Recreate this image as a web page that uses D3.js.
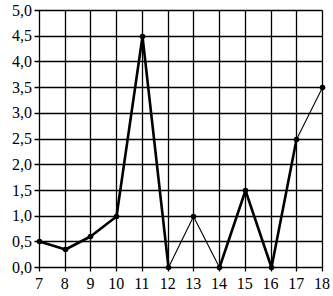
<!DOCTYPE html>
<html><head><meta charset="utf-8">
<script src="https://cdn.jsdelivr.net/npm/d3@7"></script>
<style>body{margin:0;background:#fff}svg{display:block}
text{font-family:"Liberation Serif","Times New Roman","DejaVu Serif",serif;font-size:16px}</style>
</head><body>
<svg id="c" width="333" height="296"></svg>
<script>
const xs = [7,8,9,10,11,12,13,14,15,16,17,18];
const ys = [0.5,0.35,0.6,1.0,4.5,0,1.0,0,1.5,0,2.5,3.5];
// index of segment start points drawn bold
const boldSegments = [0,1,2,3,4,7,8,9];
const yTicks = [0,0.5,1,1.5,2,2.5,3,3.5,4,4.5,5];

const svg = d3.select("#c");
const x = d3.scaleLinear().domain([7,18]).range([39,322]);
const y = d3.scaleLinear().domain([0,5]).range([267,10]);
const px = v => Math.round(v) + 0.5;
const fmt = d => d3.format(".1f")(d).replace(".", ",");

// grid
svg.append("g").selectAll("line").data(xs).join("line")
  .attr("x1", d=>px(x(d))).attr("x2", d=>px(x(d))).attr("y1", px(y(5))).attr("y2", px(y(0))+4)
  .attr("stroke","#000").attr("stroke-width",1.3);
svg.append("g").selectAll("line").data(yTicks).join("line")
  .attr("x1", px(x(7))-5).attr("x2", px(x(18))).attr("y1", d=>px(y(d))).attr("y2", d=>px(y(d)))
  .attr("stroke","#000").attr("stroke-width",1.3);

// labels
svg.append("g").selectAll("text").data(yTicks).join("text")
  .attr("x", 32).attr("y", d=>y(d)).attr("dy","0.35em").attr("text-anchor","end")
  .text(fmt);
svg.append("g").selectAll("text").data(xs).join("text")
  .attr("x", d=>x(d)).attr("y", 289).attr("text-anchor","middle")
  .text(d=>d);

// line segments
const segs = d3.range(xs.length-1);
svg.append("g").selectAll("line").data(segs).join("line")
  .attr("x1", i=>px(x(xs[i]))).attr("y1", i=>px(y(ys[i])))
  .attr("x2", i=>px(x(xs[i+1]))).attr("y2", i=>px(y(ys[i+1])))
  .attr("stroke","#000").attr("stroke-linecap","round")
  .attr("stroke-width", i=>boldSegments.includes(i)?2.6:1.1);

// markers
svg.append("g").selectAll("circle").data(xs).join("circle")
  .attr("cx",(d,i)=>px(x(d))).attr("cy",(d,i)=>px(y(ys[i]))).attr("r",2.8).attr("fill","#000");
</script>
</body></html>
